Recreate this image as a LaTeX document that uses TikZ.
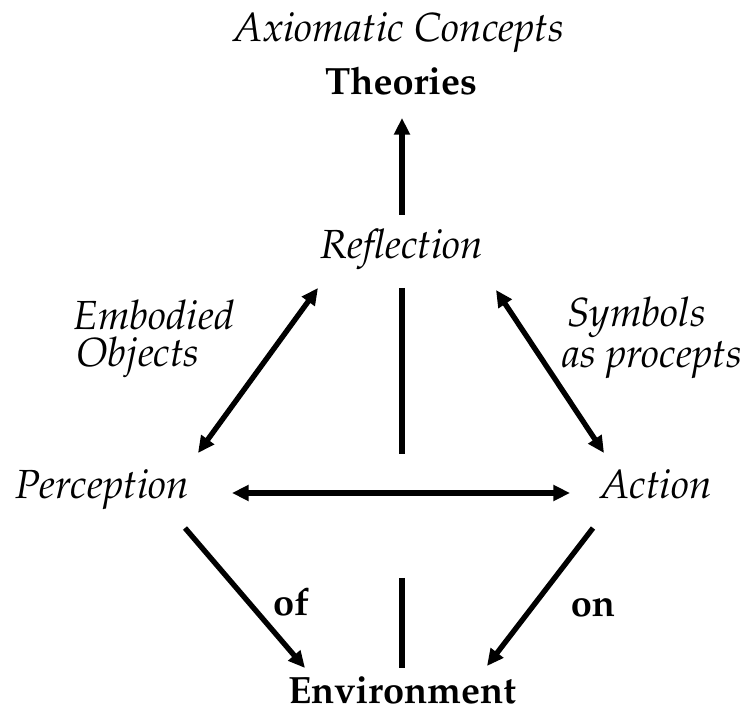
\documentclass[tikz,border=0pt]{standalone}
\usepackage[T1]{fontenc}
\usepackage{mathpazo}
\usetikzlibrary{arrows.meta}
\begin{document}
\begin{tikzpicture}[x=0.75pt,y=-0.75pt,
  lab/.style={font=\fontsize{30.5}{36}\selectfont\itshape, inner sep=0pt, anchor=base},
  llab/.style={lab, anchor=base west},
  blab/.style={font=\fontsize{28.5}{34}\selectfont\bfseries, inner sep=0pt, anchor=base},
  conn/.style={line width=4pt},
  arr/.style={conn, -{Triangle[length=12.5pt,width=11.5pt]}},
  darr/.style={conn, {Triangle[length=12.5pt,width=11.5pt]}-{Triangle[length=12.5pt,width=11.5pt]}}]
\useasboundingbox (0,0) rectangle (754,716);
\node[lab] (ax) at (399,42) {Axiomatic Concepts};
\node[blab] (th) at (401,95) {Theories};
\node[lab] (re) at (402,259) {Reflection};
\node[lab] (pe) at (102,499) {Perception};
\node[lab] (ac) at (656,499) {Action};
\node[blab] (en) at (402,703) {Environment};
\node[llab] (eo1) at (73,330) {Embodied};
\node[llab] (eo2) at (76,367) {Objects};
\node[llab] (sp1) at (567,327) {Symbols};
\node[llab] (sp2) at (562,368) {as procepts};
\node[blab] (of) at (291,615) {of};
\node[blab] (on) at (593,617) {on};
\coordinate (c1) at (402,215); \coordinate (c2) at (402,118);
\coordinate (c3) at (402,288); \coordinate (c4) at (402,454);
\coordinate (c5) at (402,578); \coordinate (c6) at (402,668);
\coordinate (l1) at (318,288); \coordinate (l2) at (198,453);
\coordinate (r1) at (496,290); \coordinate (r2) at (604,453);
\coordinate (h1) at (232,493); \coordinate (h2) at (570,493);
\coordinate (d1) at (185,528); \coordinate (d2) at (305,668);
\coordinate (e1) at (593,528); \coordinate (e2) at (487,666);
\draw[arr] (c1) -- (c2);
\draw[conn] (c3) -- (c4);
\draw[conn] (c5) -- (c6);
\draw[darr] (l1) -- (l2);
\draw[darr] (r1) -- (r2);
\draw[darr] (h1) -- (h2);
\draw[arr] (d1) -- (d2);
\draw[arr] (e1) -- (e2);
\end{tikzpicture}
\end{document}
